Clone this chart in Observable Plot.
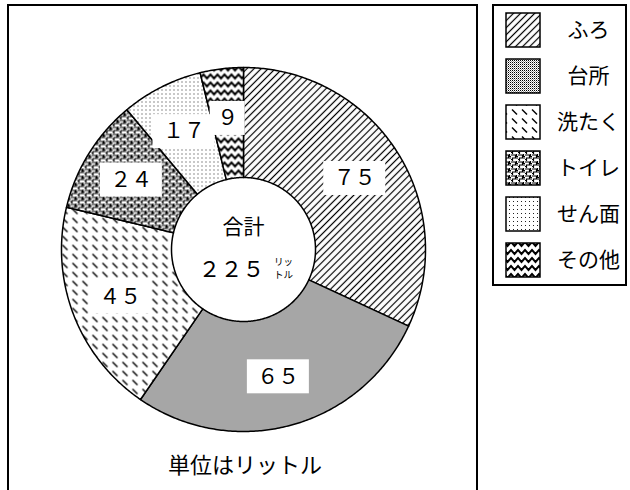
<!DOCTYPE html>
<html><head><meta charset="utf-8">
<script src="https://cdn.jsdelivr.net/npm/d3@7"></script>
<script src="https://cdn.jsdelivr.net/npm/@observablehq/plot@0.6"></script>
<style>
body{margin:0;background:#fff;font-family:"Noto Sans CJK JP",sans-serif;}
#wrap{position:relative;width:630px;height:490px;overflow:hidden;background:#fff;}
#chart{position:absolute;left:0;top:0;}
#main{position:absolute;left:7px;top:4px;width:467px;height:500px;border:2px solid #000;border-bottom:none;pointer-events:none;}
#legend{position:absolute;left:492px;top:4px;width:131px;height:278px;border:2px solid #000;pointer-events:none;}
#caption{position:absolute;left:0;width:490px;top:448px;line-height:30px;text-align:center;font-size:22px;color:#000;}
</style>
</head><body>
<svg width="0" height="0" style="position:absolute">
<defs>
<pattern id="p0" patternUnits="userSpaceOnUse" width="5" height="5" patternTransform="rotate(45)">
  <rect width="5" height="5" fill="white"/>
  <line x1="2.5" y1="-1" x2="2.5" y2="6" stroke="black" stroke-width="1.2"/>
</pattern>
<pattern id="p1" patternUnits="userSpaceOnUse" width="2" height="2">
  <rect width="2" height="2" fill="white"/>
  <rect width="1" height="1" fill="black"/>
  <rect x="1" y="1" width="1" height="1" fill="#999"/>
</pattern>
<pattern id="p2" patternUnits="userSpaceOnUse" width="10" height="9">
  <rect width="10" height="9" fill="white"/>
  <line x1="2" y1="1.5" x2="7" y2="6.5" stroke="black" stroke-width="1.4"/>
</pattern>
<pattern id="p3" patternUnits="userSpaceOnUse" width="7" height="7">
  <rect width="7" height="7" fill="white"/>
  <path d="M0,1 H4.5 V4 H1.5 V7 M4.5,4 H7 M5.5,0 V2.5 H7 M0,5.5 H1.5" fill="none" stroke="black" stroke-width="1.2"/>
</pattern>
<pattern id="p4" patternUnits="userSpaceOnUse" width="4" height="4">
  <rect width="4" height="4" fill="white"/>
  <rect x="1" y="1" width="1" height="1" fill="#222"/>
</pattern>
<pattern id="p5" patternUnits="userSpaceOnUse" width="7" height="8">
  <rect width="7" height="8" fill="white"/>
  <path d="M-3.5,6 L0,2 L3.5,6 L7,2 L10.5,6" fill="none" stroke="black" stroke-width="2"/>
</pattern>
</defs>
</svg>
<div id="wrap">
  <div id="chart"></div>
  <div id="main"></div>
  <div id="legend"></div>
  <div id="caption">単位はリットル</div>
</div>
<script>
// ---- data ----
const categories = ["ふろ", "台所", "洗たく", "トイレ", "せん面", "その他"];
const values = [75, 65, 45, 24, 17, 9];
const valueLabels = ["７５", "６５", "４５", "２４", "１７", "９"];
const totalTitle = "合計";
const totalValue = "２２５";
const unitSmall = ["リッ", "トル"];
const patterns = ["url(#p0)", "url(#p1)", "url(#p2)", "url(#p3)", "url(#p4)", "url(#p5)"];

// ---- layout ----
const W = 630, H = 490;
const cx = 243, cy = 249, R = 182, R0 = 72, LR = 132;
const FONT = "Noto Sans CJK JP";

const arcs = d3.pie().sort(null).value(d => d)(values);
const slices = arcs.map((a, i) => {
  const pts = [];
  const n = Math.max(8, Math.ceil((a.endAngle - a.startAngle) / 0.01));
  for (let k = 0; k <= n; k++) {
    const t = a.startAngle + (a.endAngle - a.startAngle) * k / n;
    pts.push({x: cx + R * Math.sin(t), y: cy - R * Math.cos(t)});
  }
  for (let k = n; k >= 0; k--) {
    const t = a.startAngle + (a.endAngle - a.startAngle) * k / n;
    pts.push({x: cx + R0 * Math.sin(t), y: cy - R0 * Math.cos(t)});
  }
  pts.push(pts[0]);
  const mid = (a.startAngle + a.endAngle) / 2;
  return {pts, fill: patterns[i], label: valueLabels[i],
          lx: cx + LR * Math.sin(mid), ly: cy - LR * Math.cos(mid)};
});
const boxW = d => 8 + 27 * d.label.length, boxH = 34;

const legend = categories.map((c, i) => ({name: c, fill: patterns[i], y: 30 + i * 46}));

const plot = Plot.plot({
  width: W, height: H,
  margin: 0,
  x: {domain: [0, W], range: [0, W], axis: null},
  y: {domain: [0, H], range: [0, H], axis: null},
  style: {background: "transparent", fontFamily: FONT},
  marks: [
    ...slices.map(s => Plot.line(s.pts, {x: "x", y: "y", fill: s.fill, stroke: "black", strokeWidth: 1.5})),
    Plot.rect(slices, {x1: d => d.lx - boxW(d) / 2, x2: d => d.lx + boxW(d) / 2,
                       y1: d => d.ly - boxH / 2, y2: d => d.ly + boxH / 2, fill: "white"}),
    Plot.text(slices, {x: "lx", y: "ly", text: "label", fontSize: 21, fontFamily: FONT, fill: "black"}),
    Plot.text([totalTitle], {x: cx, y: cy - 22, text: d => d, fontSize: 21, fontFamily: FONT, fill: "black"}),
    Plot.text([totalValue], {x: cx - 12, y: cy + 20, text: d => d, fontSize: 22, fontFamily: FONT, fill: "black"}),
    Plot.text(unitSmall, {x: cx + 40, y: (d, i) => cy + 12.5 + i * 13, text: d => d, fontSize: 9.5, fontFamily: FONT, fill: "black"}),
    Plot.rect(legend, {x1: 506, x2: 540, y1: d => d.y - 17, y2: d => d.y + 17, fill: d => d.fill, stroke: "black", strokeWidth: 1.5}),
    Plot.text(legend, {x: 588, y: "y", text: "name", fontSize: 21, fontFamily: FONT, fill: "black"})
  ]
});
document.getElementById("chart").appendChild(plot);
</script>
</body></html>
